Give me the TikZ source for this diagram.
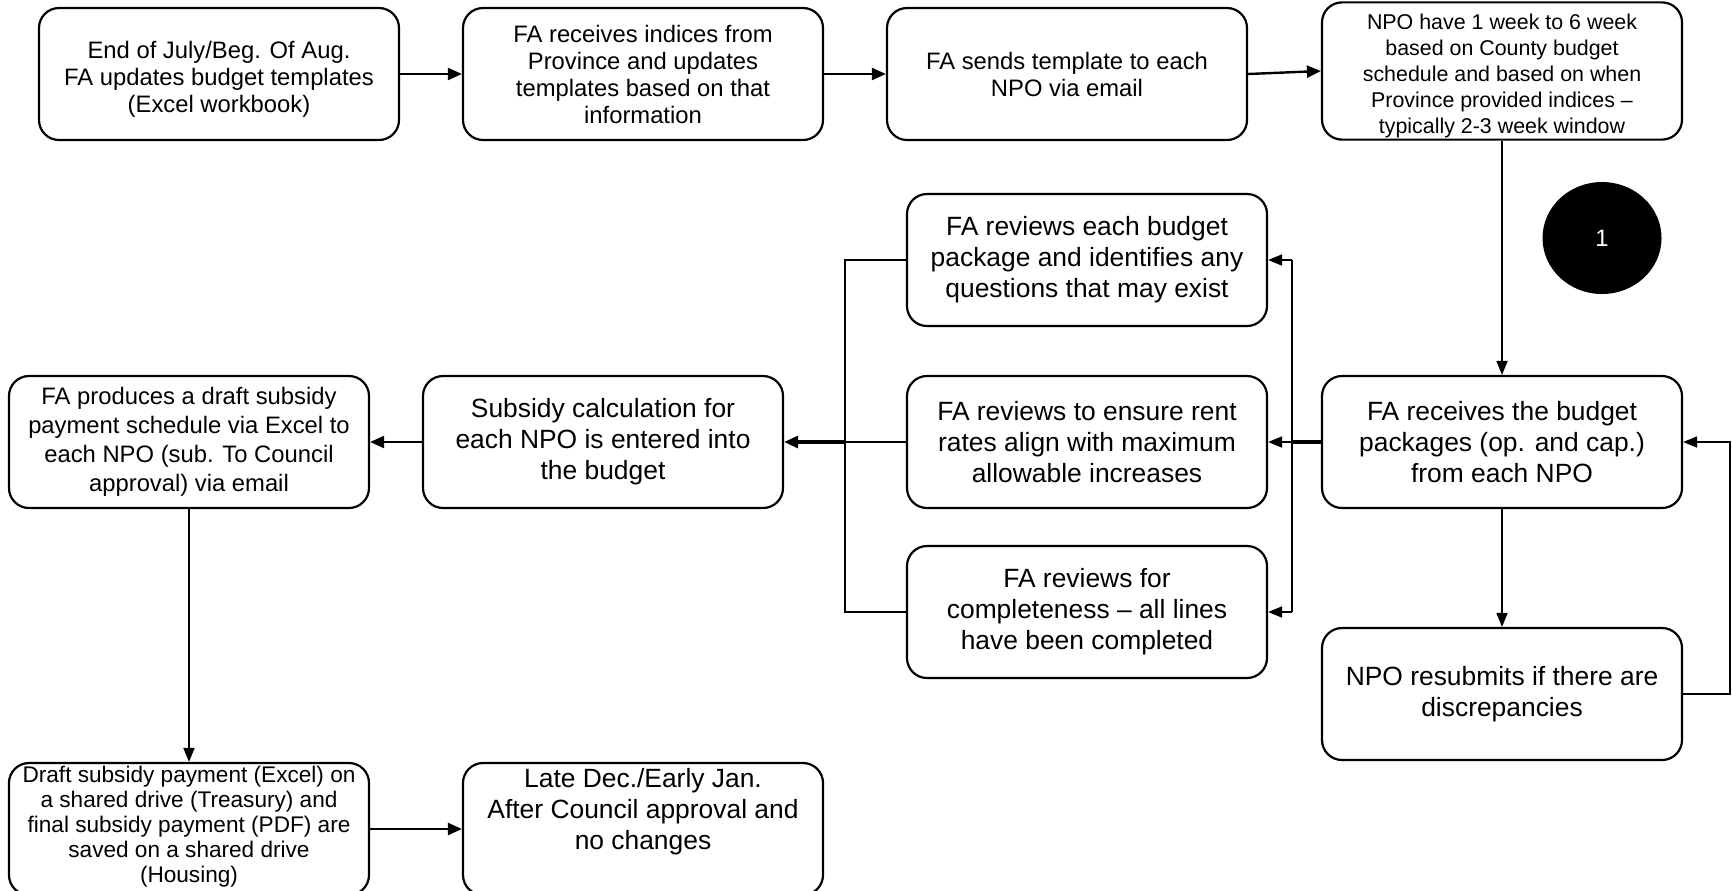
\documentclass[tikz,border=0pt]{standalone}
\usepackage{fontspec}
\setmainfont{Liberation Sans}
\usetikzlibrary{arrows.meta,shapes.geometric}
\begin{document}
\begin{tikzpicture}[x=0.5pt,y=-0.5pt,
  box/.style={draw, line width=1.1pt, rounded corners=10pt, fill=white,
    minimum width=180pt, minimum height=66pt, align=center, inner sep=1pt,
    font=\fontsize{11.9}{13.5}\selectfont},
  bigbox/.style={box, font=\fontsize{13.2}{15.5}\selectfont},
  smallbox/.style={box, font=\fontsize{10.7}{12.9}\selectfont},
  notebox/.style={box, font=\fontsize{11.3}{12.5}\selectfont},
  arr/.style={-{Triangle[length=7pt,width=6pt]}, line width=1.2pt},
  thinarr/.style={-{Triangle[length=7pt,width=5.5pt]}, line width=0.9pt},
  bus/.style={line width=0.9pt}]
\useasboundingbox (0,0) rectangle (1732,890);

% top row
\node[box] (a) at (219,74) {\rule{0pt}{14pt}End of July/Beg. Of Aug.\\FA updates budget templates\\(Excel workbook)};
\node[box] (b) at (643,74) {FA receives indices from\\Province and updates\\templates based on that\\information};
\node[box] (c) at (1067,74) {FA sends template to each\\NPO via email};
\node[smallbox] (d) at (1502,71) {\rule{0pt}{12.8pt}NPO have 1 week to 6 week\\based on County budget\\schedule and based on when\\Province provided indices --\\typically 2-3 week window};

% marker
\node[ellipse, fill=black, text=white, minimum width=59.5pt, minimum height=56pt,
  inner sep=0pt, font=\fontsize{11.9}{13.5}\selectfont] (one) at (1602,238) {1};

% right column
\node[bigbox] (e) at (1502,442) {FA receives the budget\\packages (op. and cap.)\\from each NPO};
\node[bigbox] (f) at (1502,694) {NPO resubmits if there are\\discrepancies};

% review column
\node[bigbox] (g) at (1087,260) {FA reviews each budget\\package and identifies any\\questions that may exist};
\node[bigbox] (h) at (1087,442) {FA reviews to ensure rent\\rates align with maximum\\allowable increases};
\node[bigbox] (i) at (1087,612) {FA reviews for\\completeness -- all lines\\have been completed};

% left part
\node[bigbox] (j) at (603,442) {Subsidy calculation for\\each NPO is entered into\\the budget};
\node[box, font=\fontsize{11.9}{14.5}\selectfont] (k) at (189,442) {FA produces a draft subsidy\\payment schedule via Excel to\\each NPO (sub. To Council\\approval) via email};

% bottom row, running past the lower edge
\node[notebox] (l) at (189,829) {Draft subsidy payment (Excel) on\\a shared drive (Treasury) and\\final subsidy payment (PDF) are\\saved on a shared drive\\(Housing)\rule[-5pt]{0pt}{0pt}};
\node[bigbox] (m) at (643,829) {Late Dec./Early Jan.\\After Council approval and\\no changes\rule[-20pt]{0pt}{0pt}};

% bus lines
\coordinate (rv) at (1292,0);
\coordinate (lv) at (845,0);
\coordinate (loop) at (1730,0);

% connectors
\draw[arr] (a) -- (b);
\draw[arr] (b) -- (c);
\draw[arr] (c.east) -- (d.west);
\draw[thinarr] (d.south) -- (e.north);

\draw[line width=2.2pt] (e.west) -- (e.west -| rv);
\draw[thinarr] (e.west -| rv) -- (h.east);
\draw[bus] (g.east -| rv) -- (i.east -| rv);
\draw[thinarr] (g.east -| rv) -- (g.east);
\draw[thinarr] (i.east -| rv) -- (i.east);

\draw[bus] (g.west) -- (g.west -| lv) -- (i.west -| lv) -- (i.west);
\draw[bus] (h.west) -- (h.west -| lv);
\draw[arr, line width=1.6pt] (h.west -| lv) -- (j.east);

\draw[arr] (j.west) -- (k.east);
\draw[thinarr] (k.south) -- (l.north);
\draw[arr] (l.east) -- (m.west);

\draw[thinarr] (e.south) -- (f.north);
\draw[thinarr] (f.east) -- (f.east -| loop) |- (e.east);
\end{tikzpicture}
\end{document}
